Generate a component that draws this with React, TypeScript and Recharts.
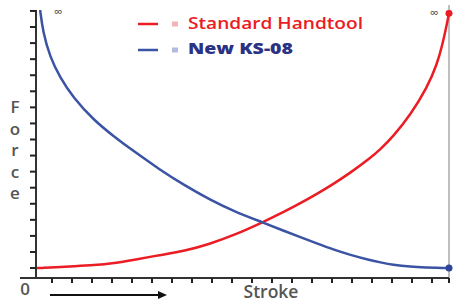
import { LineChart, Line, XAxis, YAxis, ReferenceLine } from "recharts";

// stroke position, 0..100 across the plot
const strokePos = [0, 1, 1.7, 3.4, 5.8, 9, 14, 19, 23.5, 30, 36, 42, 48, 55, 60, 64, 68, 72, 76, 81, 83.3, 86.4, 90.6, 94.7, 97.1, 98.5, 99.5, 100];
// force, in units of one y tick
const standardForce = [0, 0, 0.01, 0.03, 0.07, 0.11, 0.17, 0.3, 0.5, 0.81, 1.06, 1.49, 2.05, 2.86, 3.49, 4.03, 4.61, 5.23, 5.91, 6.86, 7.37, 8.17, 9.51, 11.23, 12.67, 14.0, 15.2, 15.85];
const newForce = [null, 16.06, 14.66, 13.13, 11.86, 10.61, 9.2, 8.16, 7.3, 6.12, 5.14, 4.27, 3.52, 2.83, 2.32, 1.92, 1.53, 1.15, 0.82, 0.48, 0.36, 0.2, 0.08, 0.03, 0.01, 0, 0, 0];

const xTicks = [3.87, 8.72, 13.56, 18.4, 23.24, 28.09, 32.93, 37.77, 42.62, 47.46, 52.3, 57.14, 61.99, 66.83, 71.67, 76.51, 81.36, 86.2, 91.04, 95.88, 100];
const yTicks = [0, 1, 2, 3, 4, 5, 6, 7, 8, 9, 10, 11, 12, 13, 14, 15, 16];
const yLabel = ["F", "o", "r", "c", "e"];

const data = strokePos.map((s, i) => ({
  stroke: s,
  standard: standardForce[i],
  ks08: newForce[i],
}));

const RED = "#ec1c24";
const BLUE = "#3b53a4";

function endDot(color: string) {
  return (props: any) => {
    if (props.payload?.stroke !== 100) return <g key={props.index} />;
    return <circle key={props.index} cx={props.cx} cy={props.cy} r={3.5} fill={color} />;
  };
}

export default function App() {
  const font = "'Open Sans', sans-serif";
  return (
    <div style={{ position: "absolute", left: 0, top: 0, width: 461, height: 302, background: "#fff" }}>
      <LineChart
        width={461}
        height={302}
        data={data}
        margin={{ top: 10, right: 12, left: 26, bottom: 14 }}
      >
        <XAxis
          dataKey="stroke"
          type="number"
          domain={[0, 100]}
          ticks={xTicks}
          height={10}
          tickSize={5}
          tickFormatter={() => ""}
          axisLine={{ stroke: "#333", strokeWidth: 2 }}
          tickLine={{ stroke: "#222", strokeWidth: 2 }}
        />
        <YAxis
          type="number"
          domain={[-0.62, 16.06]}
          ticks={yTicks}
          width={10}
          tickSize={6}
          tickFormatter={() => ""}
          allowDataOverflow
          axisLine={{ stroke: "#333", strokeWidth: 2 }}
          tickLine={{ stroke: "#222", strokeWidth: 2 }}
        />
        <ReferenceLine x={100} stroke="#a8a8a8" strokeWidth={1.5} />
        <Line
          dataKey="standard"
          type="basis"
          stroke={RED}
          strokeWidth={2.5}
          dot={endDot(RED)}
          isAnimationActive={false}
        />
        <Line
          dataKey="ks08"
          type="basis"
          stroke={BLUE}
          strokeWidth={2.5}
          dot={endDot("#2e4597")}
          connectNulls
          isAnimationActive={false}
        />
      </LineChart>
      <svg
        width={461}
        height={302}
        style={{ position: "absolute", left: 0, top: 0, pointerEvents: "none" }}
      >
        <line x1={20} y1={278} x2={36} y2={278} stroke="#333" strokeWidth={2} />
        <line x1={449} y1={5} x2={449} y2={10} stroke="#a8a8a8" strokeWidth={1.5} />
        <text x={58} y={16} fontSize={12} fill="#444" textAnchor="middle" fontFamily={font}>∞</text>
        <text x={434} y={17} fontSize={12} fill="#444" textAnchor="middle" fontFamily={font}>∞</text>

        {/* legend */}
        <line x1={138} y1={24} x2={158} y2={24} stroke={RED} strokeWidth={2.5} />
        <rect x={172} y={21.5} width={6} height={5} fill="#f5b3b8" />
        <text x={188} y={28.5} fontSize={17} fill={RED} fontFamily={font} fontWeight={600} textLength={175} lengthAdjust="spacingAndGlyphs">Standard Handtool</text>
        <line x1={138} y1={50} x2={158} y2={50} stroke={BLUE} strokeWidth={2.5} />
        <rect x={172} y={47.5} width={6} height={5} fill="#b3bcdc" />
        <text x={188} y={53.5} fontSize={16.5} fill="#2b3183" fontFamily={font} fontWeight={800} textLength={105} lengthAdjust="spacingAndGlyphs">New KS-08</text>

        {/* axis labels */}
        {yLabel.map((ch, i) => (
          <text key={i} x={15} y={113 + i * 21.5} fontSize={17} fill="#555" textAnchor="middle" fontFamily={font} fontWeight={600}>
            {ch}
          </text>
        ))}
        <text x={25} y={295} fontSize={17} fill="#555" textAnchor="middle" fontFamily={font} fontWeight={600}>0</text>
        <line x1={50} y1={295} x2={160} y2={295} stroke="#111" strokeWidth={2} />
        <polygon points="158,291 167,295 158,299" fill="#111" />
        <text x={271} y={298} fontSize={17.5} fill="#555" textAnchor="middle" fontFamily={font} fontWeight={600}>Stroke</text>
      </svg>
    </div>
  );
}
